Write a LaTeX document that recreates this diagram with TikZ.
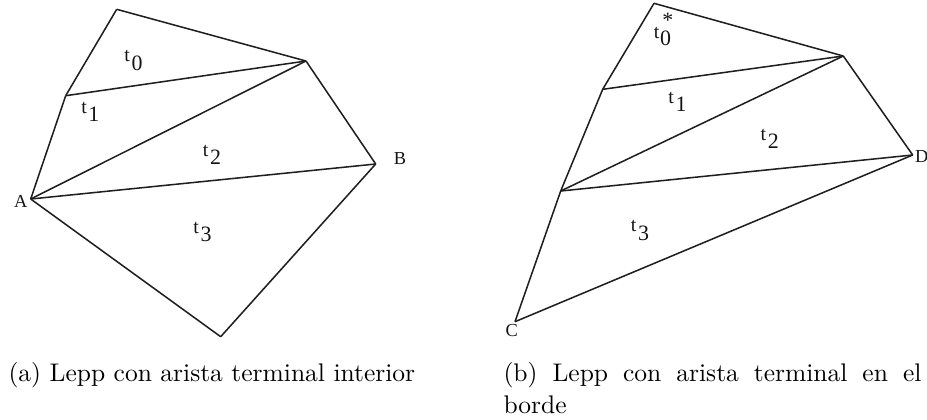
\documentclass[tikz,border=0pt]{standalone}
\usepackage{fontspec}
\newfontfamily\labfont{Liberation Serif}
\newcommand{\tsub}[1]{{\labfont\fontsize{7.8}{7.8}\selectfont t\kern0.6pt\raisebox{-3.2pt}{\fontsize{8.6}{8.6}\selectfont #1}}}
\newcommand{\tsubstar}[1]{{\labfont\fontsize{7.8}{7.8}\selectfont t\kern0.3pt\raisebox{-2.7pt}{\fontsize{8.6}{8.6}\selectfont\rlap{\raisebox{7pt}{\kern0.9pt*}}#1}}}
\tikzset{
  edge/.style={draw=black!88, line width=0.6pt, line join=round},
  tri/.style={inner sep=0pt, text=black!92},
  vlab/.style={inner sep=0pt, text=black!92, font=\labfont\fontsize{7.2}{7.2}\selectfont},
  captext/.style={inner sep=0pt, anchor=base west, font=\fontsize{10}{12}\selectfont}
}
\begin{document}
\begin{tikzpicture}[x=0.3922pt,y=-0.3922pt]
\useasboundingbox (0,0) rectangle (927,419);
% left figure
\coordinate (L1) at (116.7,9.3);
\coordinate (L2) at (306,61);
\coordinate (B) at (375.7,164);
\coordinate (L4) at (220.7,336.7);
\coordinate (A) at (30.7,199);
\coordinate (L6) at (65.7,95.7);
\draw[edge] (L1) -- (L2);
\draw[edge] (L1) -- (L6);
\draw[edge] (L6) -- (L2);
\draw[edge] (L6) -- (A);
\draw[edge] (A) -- (L2);
\draw[edge] (L2) -- (B);
\draw[edge] (A) -- (B);
\draw[edge] (B) -- (L4);
\draw[edge] (A) -- (L4);
\node[tri] (lt0) at (133.5,60.5) {\tsub{0}};
\node[tri] (lt1) at (90.3,111.5) {\tsub{1}};
\node[tri] (lt2) at (212,155) {\tsub{2}};
\node[tri] (lt3) at (202.5,232) {\tsub{3}};
\node[vlab] (la) at (20.7,201) {A};
\node[vlab] (lb) at (400,158.5) {B};
% right figure
\coordinate (R1) at (654,3.3);
\coordinate (R2) at (843.3,56);
\coordinate (D) at (912.7,155);
\coordinate (C) at (515,321.7);
\coordinate (R5) at (560.7,191);
\coordinate (R6) at (602.7,89.3);
\draw[edge] (R1) -- (R2);
\draw[edge] (R1) -- (R6);
\draw[edge] (R6) -- (R2);
\draw[edge] (R6) -- (R5);
\draw[edge] (R5) -- (R2);
\draw[edge] (R2) -- (D);
\draw[edge] (R5) -- (D);
\draw[edge] (D) -- (C);
\draw[edge] (R5) -- (C);
\node[tri] (rt0) at (662.5,29.5) {\tsubstar{0}};
\node[tri] (rt1) at (677.5,101.5) {\tsub{1}};
\node[tri] (rt2) at (769.7,138.8) {\tsub{2}};
\node[tri] (rt3) at (640,230.5) {\tsub{3}};
\node[vlab] (ld) at (921.7,156.7) {D};
\node[vlab] (lc) at (511.7,330) {C};
% captions
\node[captext] (capa) at (8,381.7) {(a) Lepp con arista terminal interior};
\node[captext] (capb) at (503,381.7) {\makebox[163.9pt][s]{(b) Lepp con arista terminal en el}};
\node[captext] (capb2) at (503,413) {borde};
\end{tikzpicture}
\end{document}
